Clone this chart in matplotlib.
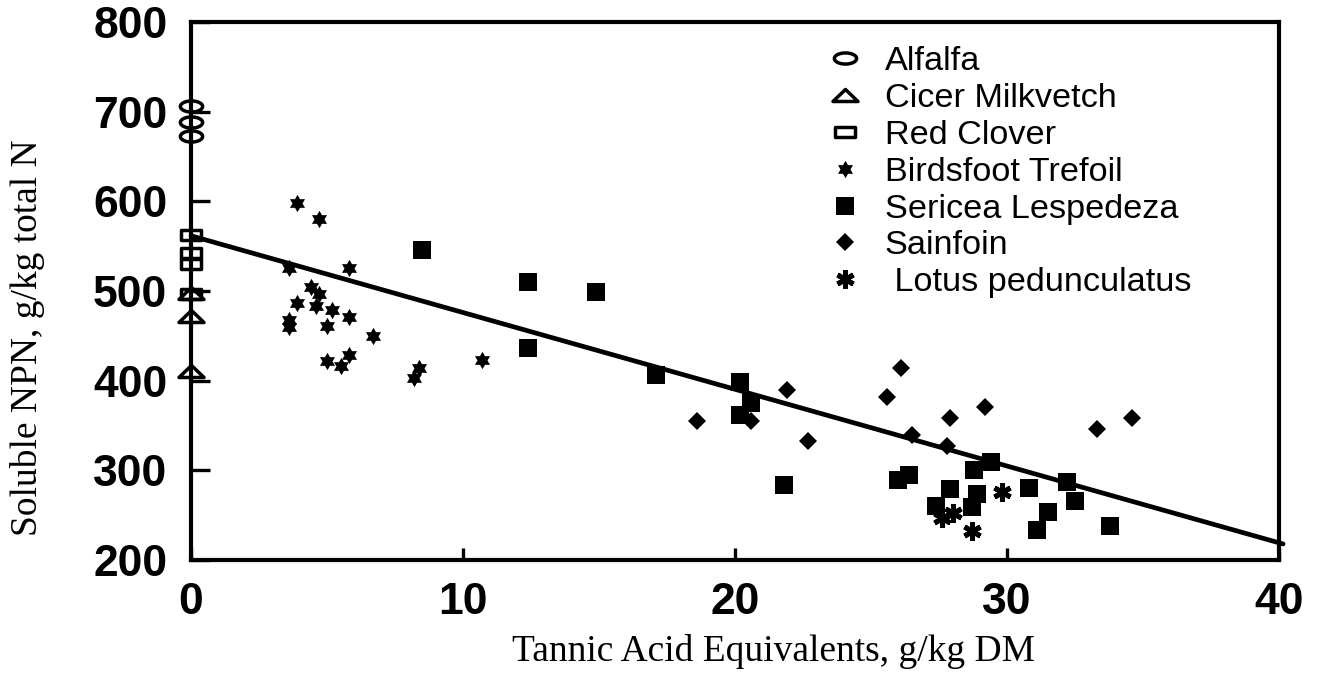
import matplotlib
matplotlib.use("Agg")
import matplotlib.pyplot as plt
import numpy as np
from matplotlib.path import Path
from matplotlib.markers import MarkerStyle

# ---------------- data ----------------
alfalfa_x = [0, 0, 0]
alfalfa_y = [706, 688, 673]

cicer_x = [0, 0, 0]
cicer_y = [498, 472, 411]

redclover_x = [0, 0, 0, 0]
redclover_y = [563, 542, 530, 497]

trefoil_x = [3.9, 4.7, 3.6, 5.8, 4.4, 4.7, 3.9, 4.6, 5.2, 5.8, 3.6, 3.6, 5.0, 6.7,
             5.8, 5.0, 5.5, 8.4, 8.2, 10.7]
trefoil_y = [598, 580, 526, 526, 505, 497, 487, 483, 479, 471, 468, 460, 461, 450,
             429, 422, 416, 414, 403, 423]

sericea_x = [8.5, 12.4, 14.9, 12.4, 17.1, 20.2, 20.6, 20.2, 21.8, 26.4, 26.0, 28.8,
             29.4, 27.9, 28.9, 27.4, 28.7, 30.8, 32.2, 32.5, 31.5, 31.1, 33.8]
sericea_y = [546, 510, 499, 436, 406, 398, 375, 362, 284, 295, 289, 300,
             309, 279, 274, 260, 259, 280, 287, 266, 253, 234, 238]

sainfoin_x = [18.6, 20.6, 21.9, 22.7, 25.6, 26.1, 26.5, 27.9, 27.8, 29.2, 33.3, 34.6]
sainfoin_y = [355, 355, 390, 333, 382, 414, 339, 358, 327, 371, 346, 358]

lotus_x = [29.8, 27.6, 28.0, 28.7]
lotus_y = [276, 247, 252, 232]

reg_x = [0, 40.15]
reg_intercept = 561.6
reg_slope = -8.56

xticks = [0, 10, 20, 30, 40]
yticks = [200, 300, 400, 500, 600, 700, 800]

# ---------------- markers ----------------
t = np.linspace(0, 2 * np.pi, 60)
ellipse = Path(np.column_stack([np.cos(t), 0.5 * np.sin(t)]), closed=True)
flat_tri = Path([(-1, -0.48), (1, -0.48), (0, 0.48), (-1, -0.48)], closed=True)
flat_rect = Path([(-1, -0.5), (1, -0.5), (1, 0.5), (-1, 0.5), (-1, -0.5)], closed=True)
hexagram = Path.unit_regular_star(6, innerCircle=0.577)

plt.rcParams['font.family'] = ['Liberation Sans', 'DejaVu Sans']

fig = plt.figure(figsize=(13.27, 6.79), dpi=100)
ax = fig.add_axes([191 / 1327, 1 - 560 / 679, 1088 / 1327, 538 / 679])

common = dict(linestyle='none', clip_on=False, color='black')
ax.plot(alfalfa_x, alfalfa_y, marker=ellipse, markersize=16, markerfacecolor='none',
        markeredgewidth=2.5, label='Alfalfa', **common)
ax.plot(cicer_x, cicer_y, marker=flat_tri, markersize=18, markerfacecolor='none',
        markeredgewidth=2.5, label='Cicer Milkvetch', **common)
ax.plot(redclover_x, redclover_y, marker=flat_rect, markersize=14, markerfacecolor='none',
        markeredgewidth=2.5, label='Red Clover', **common)
ax.plot(trefoil_x, trefoil_y, marker=hexagram, markersize=12.5, markeredgewidth=0,
        label='Birdsfoot Trefoil', **common)
ax.plot(sericea_x, sericea_y, marker='s', markersize=12.3, markeredgewidth=0,
        label='Sericea Lespedeza', **common)
ax.plot(sainfoin_x, sainfoin_y, marker='D', markersize=8.7, markeredgewidth=0,
        label='Sainfoin', **common)
ax.plot(lotus_x, lotus_y, marker=MarkerStyle((6, 2, 0), capstyle='round'), markersize=13,
        markeredgewidth=3.6, label=' Lotus pedunculatus', **common)

rx = np.array(reg_x)
ax.plot(rx, reg_intercept + reg_slope * rx, color='black', linewidth=3.4,
        solid_capstyle='round', clip_on=False, zorder=3)

ax.set_xlim(0, 40)
ax.set_ylim(200, 800)
ax.set_xticks(xticks)
ax.set_yticks(yticks)
ax.set_xticklabels([str(v) for v in xticks], fontsize=32, fontweight='bold')
ax.set_yticklabels([str(v) for v in yticks], fontsize=32, fontweight='bold')
ax.tick_params(axis='x', direction='in', length=9, width=2.4, pad=16)
ax.tick_params(axis='y', direction='in', length=14, width=2.4, pad=17)
for s in ax.spines.values():
    s.set_linewidth(3)

ax.set_xlabel('Tannic Acid Equivalents, g/kg DM', family='Liberation Serif', fontsize=27)
ax.set_ylabel('Soluble NPN, g/kg total N', family='Liberation Serif', fontsize=27)
ax.xaxis.set_label_coords(0.535, -0.171)
ax.xaxis.label.set_verticalalignment('center')
ax.yaxis.set_label_coords(-0.15, 0.413)
ax.yaxis.label.set_verticalalignment('center')

ax.legend(loc='upper left', bbox_to_anchor=(0.5855, 0.955), frameon=False, fontsize=24.7,
          borderpad=0, borderaxespad=0, labelspacing=0.17, handlelength=1.0,
          handletextpad=0.65, markerscale=1.0)

fig.savefig('out.png', dpi=100)
